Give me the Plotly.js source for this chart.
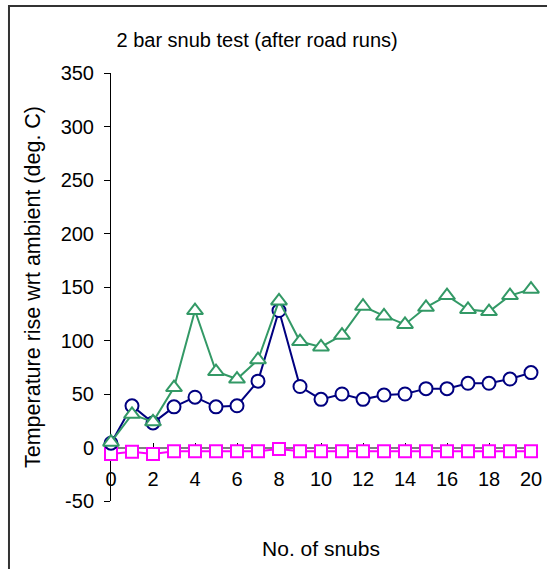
<!DOCTYPE html>
<html>
<head>
<meta charset="utf-8">
<script src="https://cdn.plot.ly/plotly-3.0.1.min.js"></script>
<style>html,body{margin:0;padding:0;background:#fff;}#chart{width:547px;height:569px;}</style>
</head>
<body>
<div id="chart"></div>
<script>
var snubs = [0,1,2,3,4,5,6,7,8,9,10,11,12,13,14,15,16,17,18,19,20];
var circleSeries = [4,39,23,38,47,38,39,62,128,57,45,50,45,49,50,55,55,60,60,64,70];
var triangleSeries = [5,31,24,56,128,71,64,82,137,99,94,105,132,123,115,131,142,129,127,142,148];
var squareSeries = [-6,-4,-6,-3.5,-3.5,-3.5,-3.5,-3.5,-1.5,-3.5,-3.5,-3.5,-3.5,-3.5,-3.5,-3.5,-3.5,-3.5,-3.5,-3.5,-3.5];
var xTicks = [0,2,4,6,8,10,12,14,16,18,20];
var yTicks = [-50,0,50,100,150,200,250,300,350];

var FONT = 'Liberation Sans, Arial, sans-serif';

var traces = [
  {x: snubs, y: squareSeries, mode: 'lines+markers', cliponaxis: false,
   line: {color: '#FF00FF', width: 2},
   marker: {symbol: 'square', size: 12, color: '#FFFFFF', line: {color: '#FF00FF', width: 2}}},
  {x: snubs, y: circleSeries, mode: 'lines+markers', cliponaxis: false,
   line: {color: '#000080', width: 2},
   marker: {symbol: 'circle', size: 13, color: '#FFFFFF', line: {color: '#000080', width: 2}}},
  {x: snubs, y: triangleSeries, mode: 'lines+markers', cliponaxis: false,
   line: {color: '#339966', width: 2},
   marker: {symbol: 'triangle-up', size: 14, color: '#FFFFFF', line: {color: '#339966', width: 2}}}
];

var layout = {
  width: 547, height: 569,
  margin: {l: 111, r: 16, t: 73, b: 68},
  paper_bgcolor: '#FFFFFF', plot_bgcolor: '#FFFFFF',
  showlegend: false,
  font: {family: FONT, color: '#000000', size: 20},
  title: {text: '2 bar snub test (after road runs)', font: {family: FONT, size: 20, color: '#000'},
          x: 0.47, xref: 'container', xanchor: 'center', y: 0.93, yref: 'container', yanchor: 'middle'},
  xaxis: {
    range: [0, 20], tickvals: xTicks, ticktext: xTicks.map(String),
    anchor: 'free', position: 0.125,
    showline: true, linecolor: '#808080', linewidth: 2,
    ticks: 'inside', ticklen: 4, tickcolor: '#000', tickwidth: 1,
    tickfont: {family: FONT, size: 20, color: '#000'},
    ticklabelstandoff: 13,
    showgrid: false, zeroline: false, layer: 'below traces', fixedrange: true,
    title: {text: 'No. of snubs', font: {family: FONT, size: 21, color: '#000'}, standoff: 52}
  },
  yaxis: {
    range: [-50, 350], tickvals: yTicks, ticktext: yTicks.map(String),
    showline: true, linecolor: '#000', linewidth: 1,
    ticks: 'outside', ticklen: 6, tickcolor: '#000', tickwidth: 1,
    tickfont: {family: FONT, size: 20, color: '#000'},
    ticklabelstandoff: 6,
    showgrid: false, zeroline: false, layer: 'below traces', fixedrange: true,
    title: {text: 'Temperature rise wrt ambient (deg. C)', font: {family: FONT, size: 21.5, color: '#000'}, standoff: 14}
  },
  shapes: [{type: 'rect', xref: 'paper', yref: 'paper', x0: -0.2429, x1: 1.05, y0: -0.17, y1: 1.1565,
            line: {color: '#333333', width: 2}, fillcolor: 'rgba(0,0,0,0)', layer: 'below'}]
};

Plotly.newPlot('chart', traces, layout, {displayModeBar: false, staticPlot: true});
</script>
</body>
</html>
